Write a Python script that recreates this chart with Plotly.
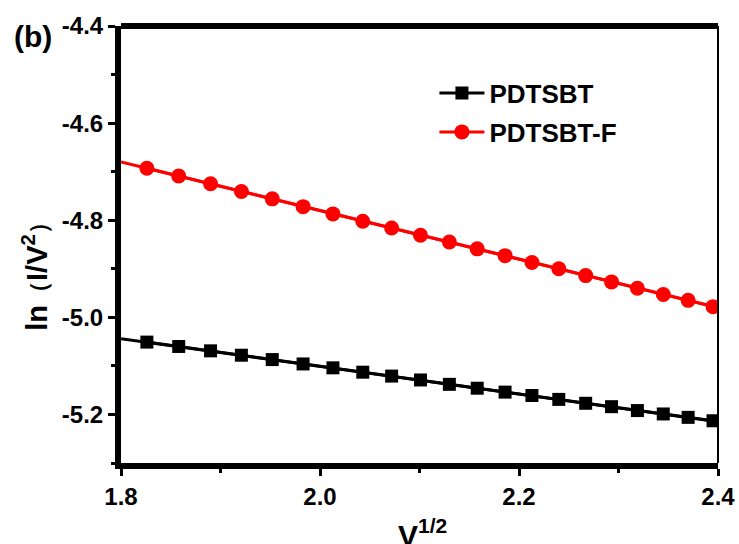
import plotly.graph_objects as go

# Data
x_pts = [1.826, 1.858, 1.890, 1.921, 1.952, 1.983, 2.013, 2.043, 2.072, 2.101,
         2.130, 2.158, 2.186, 2.213, 2.240, 2.267, 2.293, 2.319, 2.345, 2.370, 2.395]
y_pdtsbt = [-5.051, -5.060, -5.069, -5.078, -5.087, -5.096, -5.104, -5.113, -5.121, -5.129,
            -5.138, -5.146, -5.154, -5.161, -5.169, -5.177, -5.184, -5.192, -5.199, -5.206, -5.213]
y_pdtsbt_f = [-4.693, -4.709, -4.725, -4.741, -4.756, -4.772, -4.787, -4.802, -4.816, -4.831,
              -4.845, -4.859, -4.873, -4.887, -4.900, -4.914, -4.927, -4.940, -4.953, -4.965, -4.978]
# Linear fit lines (end points)
fit_x = [1.8, 2.4]
fit_pdtsbt = [-5.044, -5.215]
fit_pdtsbt_f = [-4.680, -4.980]

x_tickvals = [1.8, 2.0, 2.2, 2.4]
x_ticktext = ["1.8", "2.0", "2.2", "2.4"]
y_tickvals = [-4.4, -4.6, -4.8, -5.0, -5.2]
y_ticktext = ["-4.4", "-4.6", "-4.8", "-5.0", "-5.2"]

FONT = "Arial, Liberation Sans, sans-serif"

fig = go.Figure()
fig.add_trace(go.Scatter(x=fit_x, y=fit_pdtsbt, mode="lines",
                         line=dict(color="black", width=3), showlegend=False, hoverinfo="skip"))
fig.add_trace(go.Scatter(x=fit_x, y=fit_pdtsbt_f, mode="lines",
                         line=dict(color="#ff0000", width=3), showlegend=False, hoverinfo="skip"))
fig.add_trace(go.Scatter(x=x_pts, y=y_pdtsbt, mode="lines+markers", name="PDTSBT",
                         legendgroup="a",
                         line=dict(color="black", width=3),
                         marker=dict(symbol="square", size=13, color="black")))
fig.add_trace(go.Scatter(x=x_pts, y=y_pdtsbt_f, mode="lines+markers", name="PDTSBT-F",
                         legendgroup="b",
                         line=dict(color="#ff0000", width=3),
                         marker=dict(symbol="circle", size=15, color="#ff0000")))

fig.update_layout(
    width=739, height=544,
    margin=dict(l=121, r=21, t=26, b=81, autoexpand=False),
    paper_bgcolor="white", plot_bgcolor="white",
    font=dict(family=FONT, color="black"),
    showlegend=True,
    legend=dict(x=0.525, y=0.9, xanchor="left", yanchor="top",
                traceorder="grouped", tracegroupgap=2, itemwidth=45,
                font=dict(family=FONT, size=26, weight="bold", color="black"),
                bgcolor="rgba(0,0,0,0)", borderwidth=0),
    xaxis=dict(range=[1.8, 2.4], tickvals=x_tickvals, ticktext=x_ticktext, automargin=False,
               showline=True, linewidth=6, linecolor="black", showgrid=False, zeroline=False,
               ticks="outside", ticklen=7, tickwidth=3, tickcolor="black",
               minor=dict(ticks="outside", ticklen=4, tickwidth=3, tickcolor="black", dtick=0.1, tick0=1.8),
               tickfont=dict(family=FONT, size=24, weight="bold", color="black")),
    yaxis=dict(range=[-5.3, -4.4], tickvals=y_tickvals, ticktext=y_ticktext, automargin=False,
               showline=True, linewidth=6, linecolor="black", showgrid=False, zeroline=False,
               ticks="outside", ticklen=7, tickwidth=3, tickcolor="black",
               minor=dict(ticks="outside", ticklen=4, tickwidth=3, tickcolor="black", dtick=0.1, tick0=-4.4),
               tickfont=dict(family=FONT, size=24, weight="bold", color="black")),
    shapes=[
        dict(type="line", xref="paper", yref="paper", x0=0, x1=1, y0=1, y1=1,
             line=dict(color="black", width=6)),
        dict(type="line", xref="paper", yref="paper", x0=1, x1=1, y0=0, y1=1,
             line=dict(color="black", width=2)),
    ],
    annotations=[
        dict(text="(b)", xref="paper", yref="paper", x=-0.148, y=0.975,
             xanchor="center", yanchor="middle", showarrow=False,
             font=dict(family=FONT, size=30, weight="bold", color="black")),
        dict(text="ln<span style='font-size:24px'>（</span>I/V<sup>2</sup><span style='font-size:24px'>）</span>",
             xref="paper", yref="paper", x=-0.144, y=0.44,
             xanchor="center", yanchor="middle", textangle=-90, showarrow=False,
             font=dict(family=FONT, size=29, weight="bold", color="black")),
        dict(text="V<sup>1/2</sup>", xref="paper", yref="paper", x=0.505, y=-0.16,
             xanchor="center", yanchor="middle", showarrow=False,
             font=dict(family=FONT, size=30, weight="bold", color="black")),
    ],
)

fig.write_html("out.html")
